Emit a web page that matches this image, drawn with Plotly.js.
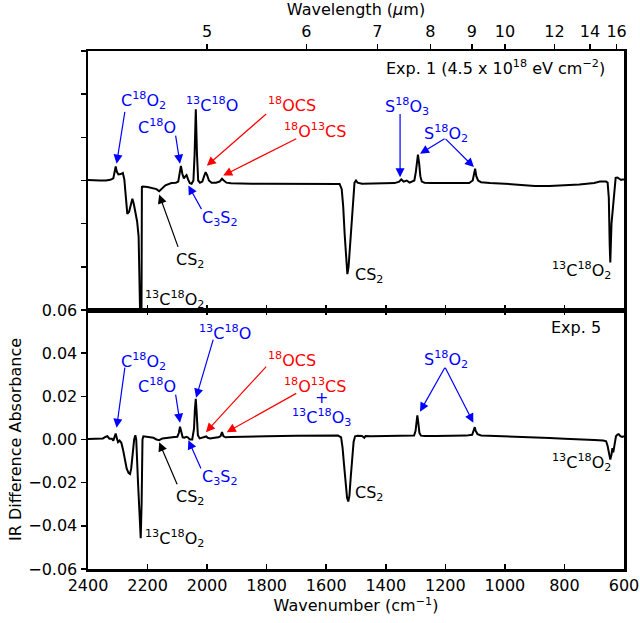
<!DOCTYPE html>
<html>
<head>
<meta charset="utf-8">
<script src="https://cdn.plot.ly/plotly-3.0.1.min.js"></script>
<style>html,body{margin:0;padding:0;background:#fff;}#chart{width:640px;height:623px;}</style>
</head>
<body>
<div id="chart"></div>
<script>
// ---- Data ----
// Exp. 1 (top panel)
const nu1 = [2400,2380,2360,2340,2325,2315,2310,2307,2303,2298,2290,2283,2278,2272,2268,2262,2256,2251,2246,2240,2235,2230,2227,2225,2223,2221,2219,2216,2200,2180,2170,2161,2150,2140,2120,2105,2097,2092,2088,2083,2078,2074,2069,2064,2058,2052,2046,2042,2038,2034,2030,2024,2016,2010,2005,2000,1994,1985,1970,1958,1950,1944,1935,1920,1900,1850,1800,1700,1600,1555,1548,1543,1538,1533,1529,1525,1520,1515,1510,1505,1500,1495,1480,1450,1400,1370,1355,1348,1340,1330,1320,1310,1304,1299,1295,1292,1288,1284,1279,1270,1250,1200,1150,1120,1108,1103,1100,1096,1090,1080,1050,1000,950,900,850,800,750,700,681,671,660,655,651,648,646,642,638,634,628,622,616,610,605,600];
const a1  = [0.0002,0.0,0.0,0.0,0.0003,0.001,0.004,0.0065,0.004,0.0028,0.003,0.0035,0.0005,-0.01,-0.0155,-0.0145,-0.0105,-0.0085,-0.011,-0.0155,-0.019,-0.026,-0.04,-0.07,-0.09,-0.09,-0.003,-0.0028,-0.003,-0.0035,-0.004,-0.005,-0.0035,-0.0022,-0.0012,-0.001,-0.0005,0.003,0.0067,0.003,0.001,0.0018,0.0025,0.0005,-0.0012,-0.0015,0.0,0.012,0.033,0.012,0.0,-0.001,-0.0005,0.002,0.0039,0.0025,0.0,-0.001,-0.001,-0.0005,0.0008,0.0,-0.001,-0.0013,-0.0014,-0.0015,-0.0015,-0.0015,-0.0015,-0.0016,-0.004,-0.012,-0.025,-0.038,-0.0434,-0.04,-0.03,-0.017,-0.006,-0.001,0.0,-0.001,-0.0015,-0.0015,-0.0013,-0.0012,-0.0005,0.0005,-0.0005,0.0,-0.001,-0.0005,0.0,0.004,0.01,0.012,0.008,0.002,-0.0005,-0.001,-0.0012,-0.0013,-0.0013,-0.0012,0.0,0.004,0.0055,0.002,0.0,-0.0008,-0.0012,-0.0015,-0.002,-0.0025,-0.0025,-0.0022,-0.0018,-0.0012,-0.0005,-0.0005,-0.0005,-0.001,-0.008,-0.03,-0.038,-0.02,-0.012,-0.0078,0.0012,0.0014,0.0008,0.0003,0.0005,0.0005];

// Exp. 5 (bottom panel)
const nu2 = [2400,2370,2350,2340,2335,2328,2320,2315,2311,2307,2303,2299,2294,2288,2282,2276,2270,2264,2259,2255,2250,2245,2241,2238,2232,2226,2223,2220,2217,2214,2200,2180,2170,2161,2150,2130,2110,2100,2095,2091,2087,2082,2076,2070,2065,2058,2050,2044,2041,2038,2035,2031,2025,2015,2008,2003,1998,1990,1975,1962,1955,1950,1945,1938,1920,1880,1800,1700,1600,1560,1550,1545,1540,1535,1530,1526,1522,1518,1513,1508,1503,1495,1480,1472,1468,1450,1400,1350,1320,1305,1300,1297,1294,1291,1287,1282,1270,1230,1180,1130,1110,1104,1101,1098,1092,1080,1050,1000,950,900,850,800,750,700,670,660,655,650,646,642,639,636,632,627,622,618,612,606,600];
const a2  = [0.0002,0.0003,0.0005,0.0013,0.0015,0.0004,0.0004,-0.0005,0.001,0.0028,0.0005,-0.0012,-0.0005,-0.0015,-0.005,-0.0095,-0.0135,-0.0155,-0.016,-0.0135,-0.006,0.0,0.002,0.0,-0.02,-0.042,-0.0457,-0.03,0.0,0.0015,0.0012,0.0008,0.0,-0.0003,0.0005,0.001,0.0012,0.0013,0.003,0.0059,0.003,0.001,0.0008,0.0012,0.001,0.0,0.0,0.005,0.014,0.0189,0.012,0.002,0.0005,0.0008,0.0012,0.0014,0.0008,0.0005,0.0008,0.001,0.0015,0.0034,0.0015,0.001,0.0012,0.0014,0.0015,0.0017,0.0018,0.0018,0.001,-0.004,-0.012,-0.021,-0.027,-0.0287,-0.026,-0.018,-0.008,-0.001,0.0015,0.0017,0.0016,0.0008,0.0016,0.0015,0.0016,0.0017,0.0016,0.0018,0.004,0.0095,0.0112,0.008,0.003,0.0018,0.0016,0.0016,0.0017,0.0018,0.0022,0.0045,0.0057,0.004,0.0025,0.0019,0.0017,0.0015,0.0012,0.0009,0.0007,0.0004,0.0002,-0.0002,-0.0005,-0.0008,-0.003,-0.007,-0.0093,-0.007,-0.004,-0.006,-0.002,0.0015,0.0023,0.0025,0.0015,0.0012,0.0015];

// Tick labels
const wnTicks = [2400,2200,2000,1800,1600,1400,1200,1000,800,600];
const wlTicks = [5,6,7,8,9,10,12,14,16];
const absTicks = [-0.06,-0.04,-0.02,0,0.02,0.04,0.06];
const absTickText = ['\u22120.06','\u22120.04','\u22120.02','0.00','0.02','0.04','0.06'];

// ---- Styling ----
const FONT = 'DejaVu Sans, Liberation Sans, sans-serif';
const BLUE = '#0000ff', RED = '#ff0000', BLACK = '#000000';
const TOP = {x:'x2', y:'y2'}, BOT = {x:'x', y:'y'};

function label(p, x, y, text, color, xanchor) {
  return {xref:p.x, yref:p.y, x:x, y:y, text:text, showarrow:false,
          xanchor:xanchor||'center', yanchor:'middle',
          font:{family:FONT, size:16, color:color}};
}
function arrow(p, tx, ty, hx, hy, color) {
  return {xref:p.x, yref:p.y, axref:p.x, ayref:p.y, x:hx, y:hy, ax:tx, ay:ty,
          text:'', borderpad:0, showarrow:true, arrowhead:2,
          arrowsize:1.5, arrowwidth:1.2, arrowcolor:color, standoff:0, startstandoff:0};
}

const C18O2 = 'C<sup>18</sup>O<sub>2</sub>';
const C18O = 'C<sup>18</sup>O';
const C13O18 = '<sup>13</sup>C<sup>18</sup>O';
const OCS18 = '<sup>18</sup>OCS';
const O18C13S = '<sup>18</sup>O<sup>13</sup>CS';
const C3S2 = 'C<sub>3</sub>S<sub>2</sub>';
const CS2 = 'CS<sub>2</sub>';
const C13O218 = '<sup>13</sup>C<sup>18</sup>O<sub>2</sub>';
const SO3 = 'S<sup>18</sup>O<sub>3</sub>';
const SO2 = 'S<sup>18</sup>O<sub>2</sub>';
const C13O318 = '<sup>13</sup>C<sup>18</sup>O<sub>3</sub>';

const annotations = [
  // top panel
  label(TOP, 2214, 0.037, C18O2, BLUE), arrow(TOP, 2276, 0.032, 2304, 0.0078, BLUE),
  label(TOP, 2169, 0.025, C18O, BLUE), arrow(TOP, 2106, 0.021, 2091, 0.0078, BLUE),
  label(TOP, 1985, 0.035, C13O18, BLUE),
  label(TOP, 1715, 0.035, OCS18, RED), arrow(TOP, 1800, 0.031, 2001, 0.0068, RED),
  label(TOP, 1638, 0.023, O18C13S, RED), arrow(TOP, 1699, 0.0195, 1946, 0.0023, RED),
  label(TOP, 1957, -0.0178, C3S2, BLUE), arrow(TOP, 2018, -0.0135, 2063, -0.0023, BLUE),
  label(TOP, 2057, -0.0372, CS2, BLACK), arrow(TOP, 2097, -0.031, 2161, -0.0065, BLACK),
  label(TOP, 2110, -0.055, C13O218, BLACK),
  label(TOP, 1328, 0.0341, SO3, BLUE), arrow(TOP, 1352, 0.031, 1352, 0.0015, BLUE),
  label(TOP, 1198, 0.022, SO2, BLUE),
  arrow(TOP, 1201, 0.0195, 1285, 0.0124, BLUE), arrow(TOP, 1201, 0.0195, 1104, 0.0062, BLUE),
  label(TOP, 1509, -0.0442, CS2, BLACK, 'left'),
  label(TOP, 636, -0.0419, C13O218, BLACK, 'right'),
  label(TOP, 658, 0.0524, 'Exp. 1 (4.5 x 10<sup>18</sup> eV cm<sup>\u22122</sup>)', BLACK, 'right'),
  // bottom panel
  label(BOT, 2214, 0.036, C18O2, BLUE), arrow(BOT, 2276, 0.0335, 2304, 0.0054, BLUE),
  label(BOT, 2169, 0.0251, C18O, BLUE), arrow(BOT, 2106, 0.021, 2091, 0.0078, BLUE),
  label(BOT, 1940, 0.0496, C13O18, BLUE), arrow(BOT, 1979, 0.0465, 2037, 0.0194, BLUE),
  label(BOT, 1715, 0.0372, OCS18, RED), arrow(BOT, 1800, 0.034, 2004, 0.0034, RED),
  label(BOT, 1638, 0.0251, O18C13S, RED), arrow(BOT, 1699, 0.0215, 1934, 0.0034, RED),
  label(BOT, 1615, 0.0194, '+', BLUE),
  label(BOT, 1615, 0.0104, C13O318, BLUE),
  label(BOT, 1957, -0.0178, C3S2, BLUE), arrow(BOT, 2020, -0.0137, 2063, -0.0003, BLUE),
  label(BOT, 2057, -0.0271, CS2, BLACK), arrow(BOT, 2100, -0.021, 2161, -0.0013, BLACK),
  label(BOT, 2111, -0.0457, C13O218, BLACK),
  label(BOT, 1198, 0.0372, SO2, BLUE),
  arrow(BOT, 1201, 0.0335, 1285, 0.0129, BLUE), arrow(BOT, 1201, 0.0335, 1106, 0.0078, BLUE),
  label(BOT, 1509, -0.0248, CS2, BLACK, 'left'),
  label(BOT, 636, -0.0108, C13O218, BLACK, 'right'),
  label(BOT, 670, 0.052, 'Exp. 5', BLACK, 'right')
];

const axisLine = {showline:true, linecolor:BLACK, linewidth:2.5, showgrid:false, zeroline:false,
                  tickcolor:BLACK, tickwidth:1.5, ticklen:5, tickfont:{family:FONT, size:16, color:BLACK}};

const traces = [
  {x:nu1, y:a1, xaxis:'x2', yaxis:'y2', mode:'lines', line:{color:BLACK, width:2}, hoverinfo:'skip', showlegend:false},
  {x:nu2, y:a2, xaxis:'x', yaxis:'y', mode:'lines', line:{color:BLACK, width:2}, hoverinfo:'skip', showlegend:false},
  {x:nu1, y:a1, xaxis:'x3', yaxis:'y2', mode:'lines', opacity:0, line:{width:0}, hoverinfo:'skip', showlegend:false}
];

const layout = {
  width:640, height:623,
  margin:{l:88, r:16, t:51, b:54},
  paper_bgcolor:'#fff', plot_bgcolor:'#fff',
  font:{family:FONT, size:16, color:BLACK},
  showlegend:false,
  xaxis: Object.assign({}, axisLine, {domain:[0,1], anchor:'y', range:[2400,600],
    tickvals:wnTicks, ticktext:wnTicks.map(String), ticks:'inside', mirror:'ticks',
    title:{text:'Wavenumber (cm<sup>\u22121</sup>)', font:{family:FONT, size:16}, standoff:4}}),
  yaxis: Object.assign({}, axisLine, {domain:[0,0.5], anchor:'x', range:[-0.06,0.06],
    tickvals:absTicks, ticktext:absTickText, ticks:'outside', mirror:true,
    title:{text:'IR Difference Absorbance', font:{family:FONT, size:16}, standoff:3}}),
  xaxis2: Object.assign({}, axisLine, {domain:[0,1], anchor:'y2', range:[2400,600],
    tickvals:wnTicks, showticklabels:false, ticks:'inside', mirror:true}),
  yaxis2: Object.assign({}, axisLine, {domain:[0.5,1], anchor:'x2', range:[-0.06,0.06],
    tickvals:absTicks, showticklabels:false, ticks:'outside', mirror:true}),
  xaxis3: Object.assign({}, axisLine, {overlaying:'x2', side:'top', anchor:'y2', range:[2400,600],
    tickvals:wlTicks.map(w => 1e4/w), ticktext:wlTicks.map(String), ticks:'outside',
    title:{text:'Wavelength (<i>\u00b5</i>m)', font:{family:FONT, size:16}, standoff:4}}),
  annotations: annotations
};

Plotly.newPlot('chart', traces, layout, {displayModeBar:false, staticPlot:true});
</script>
</body>
</html>
